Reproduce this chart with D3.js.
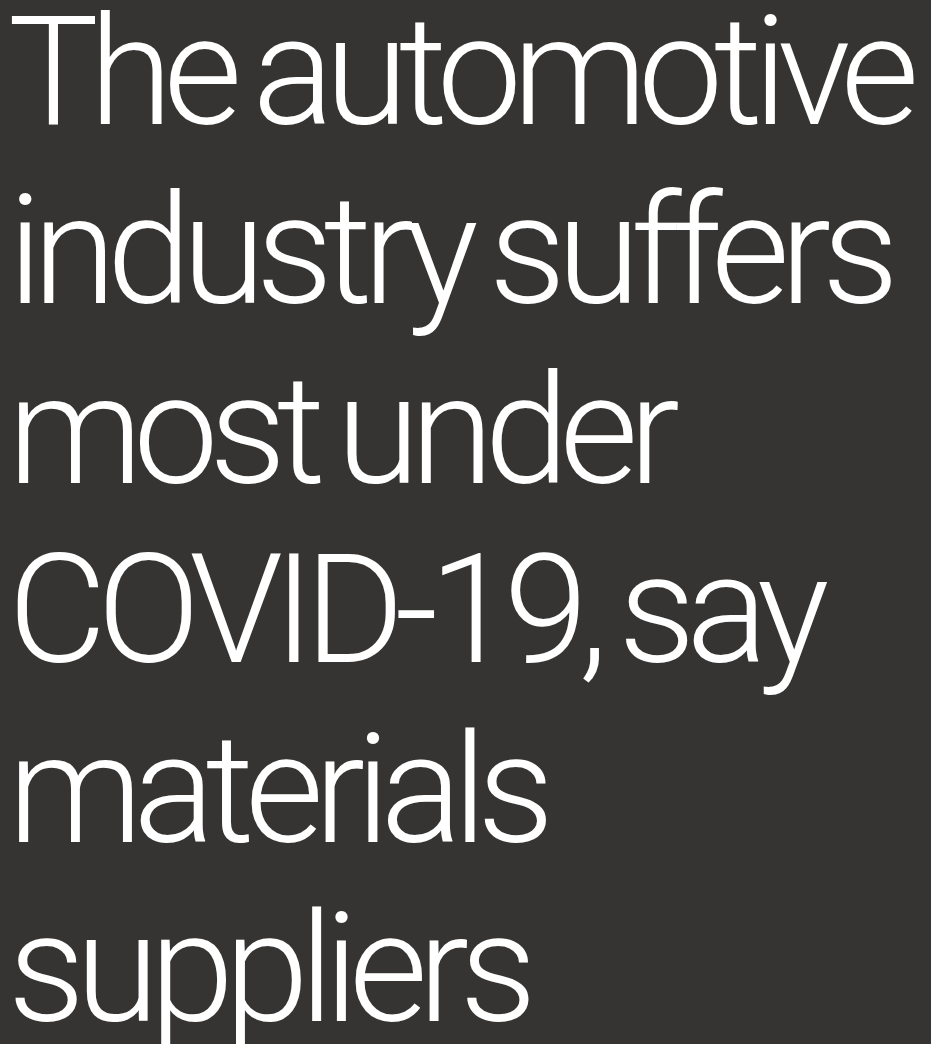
<!DOCTYPE html>
<html>
<head>
<meta charset="utf-8">
<script src="https://cdn.jsdelivr.net/npm/d3@7"></script>
<style>
  html, body { margin: 0; padding: 0; background: #363432; }
  svg { display: block; }
  .headline {
    font-family: "Roboto", "Liberation Sans", sans-serif;
    font-weight: 300;
    fill: #ffffff;
  }
</style>
</head>
<body>
<div id="chart"></div>
<script>
// headline split into the lines as they appear
var lines = ["The automotive", "industry suffers", "most under", "COVID-19, say", "materials", "suppliers"];

var width = 931, height = 1044;
var fontSize = 152, lineHeight = 179.4, firstBaseline = 124;

var svg = d3.select("#chart").append("svg")
    .attr("width", width)
    .attr("height", height);

svg.append("rect")
    .attr("width", width)
    .attr("height", height)
    .attr("fill", "#363432");

// one baseline per line
var y = d3.scaleLinear()
    .domain([0, lines.length - 1])
    .range([firstBaseline, firstBaseline + lineHeight * (lines.length - 1)]);

svg.selectAll("text.headline")
    .data(lines)
    .enter().append("text")
    .attr("class", "headline")
    .attr("x", 8)
    .attr("y", function (d, i) { return y(i); })
    .style("font-size", fontSize + "px")
    .style("letter-spacing", "-0.062em")
    .style("word-spacing", "-0.05em")
    .text(function (d) { return d; });
</script>
</body>
</html>
